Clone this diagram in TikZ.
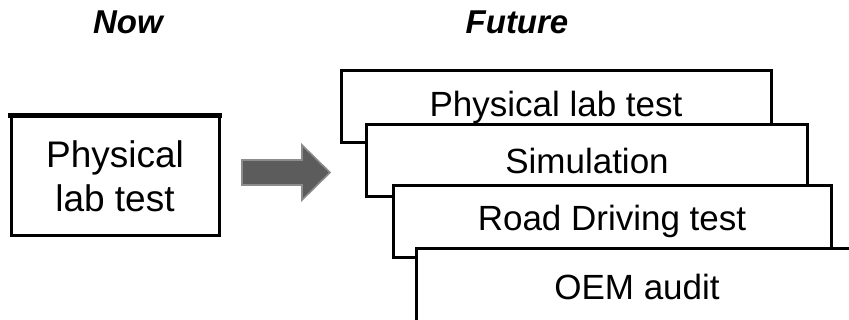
\documentclass[tikz,border=0pt]{standalone}
\usepackage{fontspec}
\setmainfont{Liberation Sans}
\usetikzlibrary{positioning}

\begin{document}
\begin{tikzpicture}[x=0.5pt, y=-0.5pt,
						block/.style={draw, rectangle, line width=1.5pt, fill=white, inner sep=0pt, minimum width=#1, minimum height=36pt, font=\fontsize{17.5}{21}\selectfont},
						heading/.style={font=\fontsize{16.5}{20}\selectfont\bfseries\itshape},
						bigarrow/.style={fill=black!64, draw=black!45, line width=0.8pt, line join=miter},]
		\path[use as bounding box, clip] (0,0) rectangle (849,320);

		\node (now) [heading] at (128,22) {Now};
		\node (future) [heading] at (517,22) {Future};

		\node (lab) [block=104pt, minimum height=59pt, align=center, font=\fontsize{18.5}{22}\selectfont] at (115,176) {Physical\\lab test};
		\draw[line width=2.6pt] ([xshift=-0.75pt]lab.north west) -- ([xshift=0.75pt]lab.north east);

		% the four future test routes, stacked
		\node (phys) [block=215pt] at (556,107) {Physical lab test};
		\node (sim) [block=220.5pt] at (587,160.5) {Simulation};
		\node (road) [block=219pt] at (612,221) {Road Driving test};
		\node (oem) [block=221pt, minimum height=42pt] at (637,290) {\raisebox{3pt}{OEM audit}};

		% block arrow from now to future
		\draw[bigarrow] (242,160) -- (302,160) -- (302,145) -- (330,172.5) -- (302,200) -- (302,185) -- (242,185) -- cycle;
	\end{tikzpicture}
\end{document}
